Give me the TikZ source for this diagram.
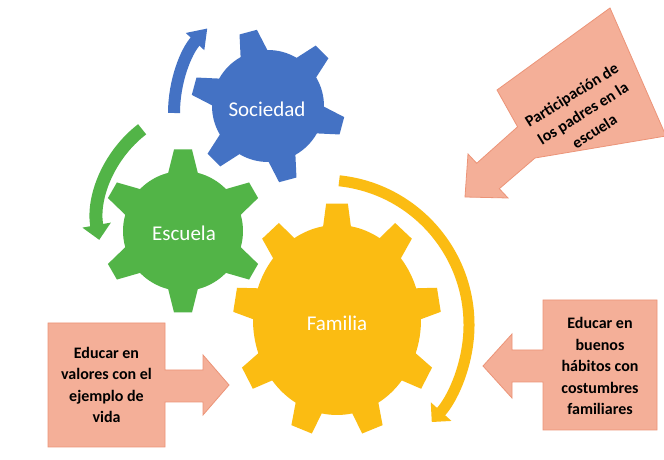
\documentclass[tikz,border=0pt]{standalone}
\usepackage{fontspec}
\setmainfont{Carlito}
\usetikzlibrary{arrows.meta}
\definecolor{gblue}{HTML}{4472C4}
\definecolor{ggreen}{HTML}{52B447}
\definecolor{gyellow}{HTML}{FBBC12}
\definecolor{salmon}{HTML}{F4AF98}
\definecolor{salmonline}{HTML}{EC9478}
\begin{document}
\begin{tikzpicture}[x=1pt,y=1pt,
  geartext/.style={text=white, font=\fontsize{21}{25}\selectfont},
  boxtext/.style={align=center, font=\bfseries\fontsize{16}{21.5}\selectfont, text=black},
  salmonbox/.style={fill=salmon, draw=salmonline, line width=0.8pt, line join=miter},
  turnarrow/.style={line cap=butt}]
\useasboundingbox (0,0) rectangle (664,460);
\fill[white] (0,0) rectangle (664,460);

% blue gear
\begin{scope}[shift={(268,354)}]
\fill[gblue] (105+14.3:56) \foreach \k [evaluate=\k as \a using 105-60*\k] in {0,...,5} { -- (\a+6.7:77) -- (\a-6.7:77) -- (\a-14.3:56) arc[start angle=\a-14.3, end angle=\a-60+14.3, radius=56] } -- cycle;
\end{scope}
% green gear
\begin{scope}[shift={(183,229)}]
\fill[ggreen] (90+14.3:60) \foreach \k [evaluate=\k as \a using 90-60*\k] in {0,...,5} { -- (\a+6.3:82) -- (\a-6.3:82) -- (\a-14.3:60) arc[start angle=\a-14.3, end angle=\a-60+14.3, radius=60] } -- cycle;
\end{scope}
% yellow gear
\begin{scope}[shift={(337,140)}]
\fill[gyellow] (90+9.5:84 and 95) \foreach \k [evaluate=\k as \a using 90-40*\k] in {0,...,8} { -- (\a+6:104 and 117) -- (\a-6:104 and 117) -- (\a-9.5:84 and 95) arc[start angle=\a-9.5, end angle=\a-40+9.5, x radius=84, y radius=95] } -- cycle;
\end{scope}

% turning arrows
\draw[gblue, line width=12pt, turnarrow, -{Triangle[width=24pt,length=18pt]}]
  ([shift={(180:124)}]298,347) arc[start angle=180, end angle=137, radius=124];
\draw[ggreen, line width=13pt, turnarrow, -{Triangle[width=28pt,length=15pt]}]
  ([shift={(127.6:114.5)}]212,240) arc[start angle=127.6, end angle=190, radius=114.5];
\draw[gyellow, line width=11pt, turnarrow, -{Triangle[width=27pt,length=14pt]}]
  ([shift={(84:145)}]324,135) arc[start angle=84, end angle=-42, radius=145];

% gear labels
\node[geartext] (soc) at (267,351) {Sociedad};
\node[geartext] (esc) at (184,227) {Escuela};
\node[geartext] (fam) at (337,137) {Familia};

% left arrow box
\draw[salmonbox] (48,13) -- (165,13) -- (165,58) -- (203,58) -- (203,45) -- (229,75) -- (203,105) -- (203,90) -- (165,90) -- (165,137) -- (48,137) -- cycle;
\node[boxtext] (t1) at (106.5,75) {Educar en\\valores con el\\ejemplo de\\vida};

% right arrow box
\draw[salmonbox] (657,30) -- (543,30) -- (543,78) -- (512,78) -- (512,62) -- (483,94) -- (512,126) -- (512,110) -- (543,110) -- (543,160) -- (657,160) -- cycle;
\node[boxtext] (t2) at (600,94) {Educar en\\buenos\\hábitos con\\costumbres\\familiares};

% top right arrow box
\begin{scope}
\clip (0,0) rectangle (664,460);
\draw[salmonbox] (497,370) -- (610,452) -- (666,324) -- (535,302) -- (499.3,271.3) -- (508,262) -- (465,263) -- (468,306) -- (476.7,296.7) -- (517.6,333.2) -- cycle;
\end{scope}
\node[boxtext, rotate=32] (t3) at (583,347) {Participación de\\los padres en la\\escuela};
\end{tikzpicture}
\end{document}
